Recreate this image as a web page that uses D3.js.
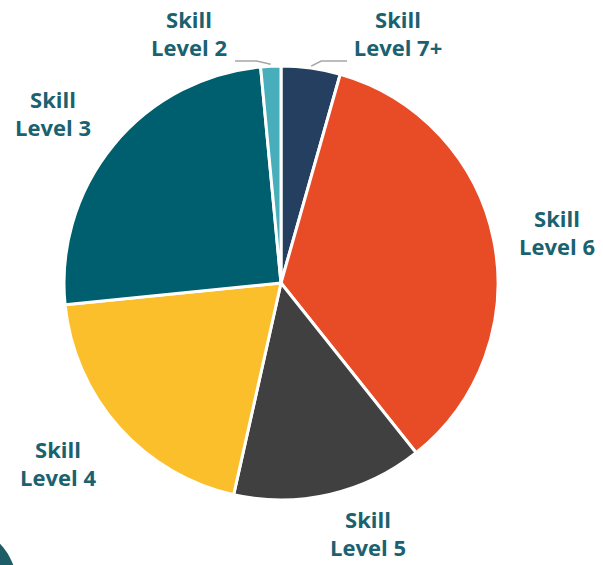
<!DOCTYPE html>
<html lang="en">
<head>
<meta charset="utf-8">
<title>Skill levels pie</title>
<script src="https://d3js.org/d3.v7.min.js"></script>
<style>
  body { margin: 0; background: #fff; }
  text { font-family: "Open Sans", Lato, sans-serif; font-weight: 700; }
</style>
</head>
<body>
<script>
// clockwise from 12 o'clock
var levels = ["Skill Level 7+", "Skill Level 6", "Skill Level 5", "Skill Level 4", "Skill Level 3", "Skill Level 2"];
var shares = [4.4, 34.9, 14.2, 19.9, 25.1, 1.5];
var colors = ["#243f5f", "#e84c27", "#404040", "#fbbf2c", "#005f6e", "#48aebb"];
// label anchor: centre x, baseline of first line
var labelPos = [[398, 28], [557, 227], [368, 528], [58, 458], [53, 108], [189, 28]];

var width = 603, height = 565;
var cx = 281, cy = 283, radius = 217;

var svg = d3.select("body").append("svg")
    .attr("width", width)
    .attr("height", height);

// corner decoration bottom-left
svg.append("circle")
    .attr("cx", -44).attr("cy", 586).attr("r", 61)
    .attr("fill", "#1d5d68");

var pie = d3.pie().sort(null).value(function(d) { return d; });
var arc = d3.arc().innerRadius(0).outerRadius(radius);
var arcs = pie(shares);

var g = svg.append("g").attr("transform", "translate(" + cx + "," + cy + ")");

g.selectAll("path.slice")
    .data(arcs)
    .enter()
    .append("path")
    .attr("class", "slice")
    .attr("d", arc)
    .attr("fill", function(d, i) { return colors[i]; })
    .attr("stroke", "#fff")
    .attr("stroke-width", 3)
    .attr("stroke-linejoin", "round");

// leader lines for the two thin slices at the top
var edgeArc = d3.arc().innerRadius(radius + 2).outerRadius(radius + 2);
function leader(i, tx) {
    var p = edgeArc.centroid(arcs[i]);
    var mid = [p[0] + (tx > 0 ? 10 : -14), -222];
    g.append("polyline")
        .attr("points", [p, mid, [tx, -222]].map(function(q) { return q.join(","); }).join(" "))
        .attr("fill", "none")
        .attr("stroke", "#a6a6a6")
        .attr("stroke-width", 1.5);
}
leader(0, 66);
leader(5, -46);

var labels = svg.selectAll("text.lbl")
    .data(levels)
    .enter()
    .append("text")
    .attr("class", "lbl")
    .attr("text-anchor", "middle")
    .attr("fill", "#1b6270")
    .attr("font-size", 22);

labels.append("tspan")
    .attr("x", function(d, i) { return labelPos[i][0]; })
    .attr("y", function(d, i) { return labelPos[i][1]; })
    .text("Skill");
labels.append("tspan")
    .attr("x", function(d, i) { return labelPos[i][0]; })
    .attr("y", function(d, i) { return labelPos[i][1] + 28; })
    .text(function(d) { return d.replace("Skill ", ""); });
</script>
</body>
</html>
